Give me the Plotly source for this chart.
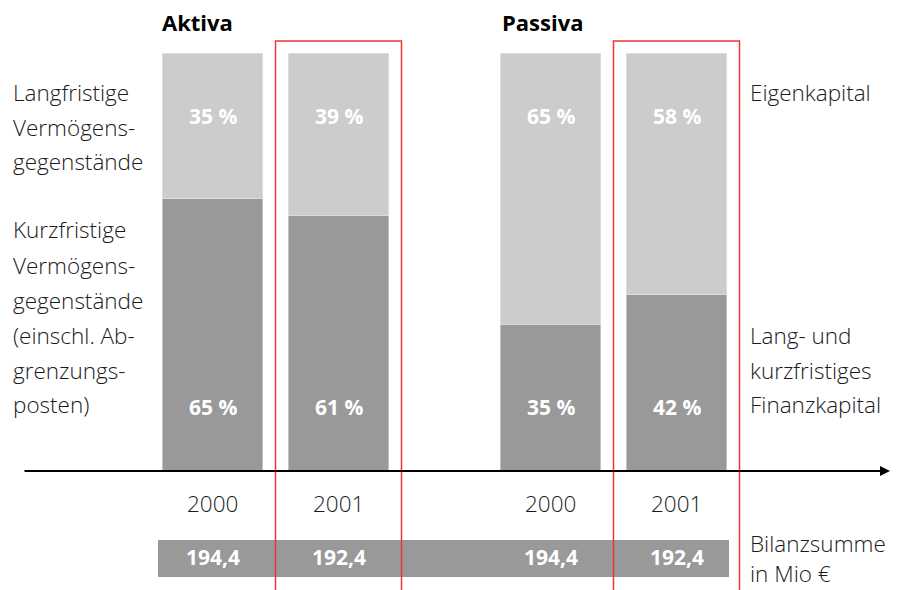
import plotly.graph_objects as go

W, H = 905, 590

years = ["2000", "2001"]
aktiva_kurz = [65, 61]      # Kurzfristige Vermögensgegenstände (%)
aktiva_lang = [35, 39]      # Langfristige Vermögensgegenstände (%)
passiva_fremd = [35, 42]    # Lang- und kurzfristiges Finanzkapital (%)
passiva_eigen = [65, 58]    # Eigenkapital (%)
bilanz_aktiva = ["194,4", "192,4"]
bilanz_passiva = ["194,4", "192,4"]

LIGHT = "#cccccc"
DARK = "#999999"
RED = "#f03434"
TXT = "#1a1a1a"
FONT = "Open Sans"

def px(x):
    return x / W

def py(y):
    return (H - y) / H

idx = list(range(len(years)))  # category slots

fig = go.Figure()

for xa, ya, dark, light in [("x", "y", aktiva_kurz, aktiva_lang),
                            ("x2", "y2", passiva_fremd, passiva_eigen)]:
    fig.add_trace(go.Bar(x=idx, y=dark, marker=dict(color=DARK), width=0.8,
                         xaxis=xa, yaxis=ya, showlegend=False))
    fig.add_trace(go.Bar(x=idx, y=light, marker=dict(color=LIGHT), width=0.8,
                         xaxis=xa, yaxis=ya, showlegend=False))

ann = []
shapes = []

def note(**kw):
    kw.setdefault("showarrow", False)
    kw.setdefault("yanchor", "middle")
    kw.setdefault("xanchor", "center")
    ann.append(kw)

BOLD = dict(family=FONT, size=21, color="white")
LIGHTF = dict(family=FONT, size=22.5, color=TXT, weight=300)

# percent labels inside bars and year labels
for xr, yr, dark, light in [("x", "y", aktiva_kurz, aktiva_lang),
                            ("x2", "y2", passiva_fremd, passiva_eigen)]:
    for i in idx:
        note(x=i, y=85, xref=xr, yref=yr, text=f"<b>{light[i]} %</b>", font=BOLD)
        note(x=i, y=15, xref=xr, yref=yr, text=f"<b>{dark[i]} %</b>", font=BOLD)
        note(x=i, y=py(503), xref=xr, yref="paper", text=years[i], font=LIGHTF)

# Bilanzsumme band
shapes.append(dict(type="rect", xref="paper", yref="paper", x0=px(158), x1=px(729),
                   y0=py(577), y1=py(540), fillcolor=DARK, line=dict(width=0), layer="below"))
for xr, vals in [("x", bilanz_aktiva), ("x2", bilanz_passiva)]:
    for i in idx:
        note(x=i, y=py(557), xref=xr, yref="paper", text=f"<b>{vals[i]}</b>", font=BOLD)

# red frames around 2001 columns
for xr in ["x domain", "x2 domain"]:
    shapes.append(dict(type="rect", xref=xr, yref="paper", x0=0.5, x1=1.0,
                       y0=-0.05, y1=py(41), line=dict(color=RED, width=1.5),
                       fillcolor="rgba(0,0,0,0)", layer="above"))

# titles
note(x=px(160), y=py(22), xref="paper", yref="paper", text="<b>Aktiva</b>",
     xanchor="left", font=dict(family=FONT, size=22, color="black"))
note(x=px(500), y=py(22), xref="paper", yref="paper", text="<b>Passiva</b>",
     xanchor="left", font=dict(family=FONT, size=22, color="black"))

def lines(texts, x, y0, step):
    for i, t in enumerate(texts):
        note(x=px(x), y=py(y0 + i * step), xref="paper", yref="paper", text=t,
             xanchor="left", font=LIGHTF)

lines(["Langfristige", "Vermögens-", "gegenstände"], 11, 93, 34)
lines(["Kurzfristige", "Vermögens-", "gegenstände", "(einschl. Ab-", "grenzungs-", "posten)"], 11, 230, 35)
lines(["Eigenkapital"], 748, 93, 34)
lines(["Lang- und", "kurzfristiges", "Finanzkapital"], 748, 335, 35)
lines(["Bilanzsumme", "in Mio €"], 748, 543, 30)

# axis arrow
ann.append(dict(x=px(890), y=py(471), xref="paper", yref="paper", ax=-(890 - 23), ay=0,
                axref="pixel", ayref="pixel", text="", showarrow=True, arrowhead=2,
                arrowsize=1, arrowwidth=2, arrowcolor="black", standoff=0, startstandoff=0))

ax_common = dict(showgrid=False, zeroline=False, showline=False, showticklabels=False)
fig.update_layout(
    width=W, height=H, margin=dict(l=0, r=0, t=0, b=0),
    paper_bgcolor="white", plot_bgcolor="rgba(0,0,0,0)",
    barmode="stack",
    xaxis=dict(domain=[149.5 / W, 401.5 / W], anchor="y", range=[-0.5, 1.5], **ax_common),
    xaxis2=dict(domain=[487.5 / W, 739.5 / W], anchor="y2", range=[-0.5, 1.5], **ax_common),
    yaxis=dict(domain=[py(470), py(53)], range=[0, 100], anchor="x", **ax_common),
    yaxis2=dict(domain=[py(470), py(53)], range=[0, 100], anchor="x2", **ax_common),
    annotations=ann, shapes=shapes,
)

fig.write_html("out.html")
